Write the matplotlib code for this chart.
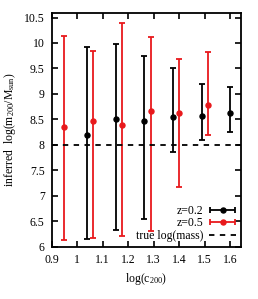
import matplotlib.pyplot as plt
from matplotlib.lines import Line2D
from matplotlib.container import ErrorbarContainer
from matplotlib.legend_handler import HandlerErrorbar

plt.rcParams['font.family'] = 'Liberation Serif'
plt.rcParams['mathtext.fontset'] = 'custom'
plt.rcParams['mathtext.rm'] = 'Liberation Serif'
plt.rcParams['mathtext.it'] = 'Liberation Serif:italic'
plt.rcParams['font.size'] = 8.5

# z=0.2 (black)
c_02 = [1.037, 1.151, 1.262, 1.375, 1.489, 1.600]
m_02 = [8.19, 8.50, 8.47, 8.55, 8.57, 8.63]
hi_02 = [9.92, 9.98, 9.74, 9.51, 9.19, 9.13]
lo_02 = [6.15, 6.32, 6.54, 7.85, 8.09, 8.25]

# z=0.5 (red)
c_05 = [0.948, 1.062, 1.175, 1.289, 1.401, 1.512]
m_05 = [8.35, 8.47, 8.39, 8.66, 8.62, 8.78]
hi_05 = [10.13, 9.84, 10.40, 10.12, 9.69, 9.83]
lo_05 = [6.14, 6.18, 6.21, 6.31, 7.18, 8.19]

true_mass = 8.0
red = '#e8191c'

fig = plt.figure(figsize=(2.58, 2.99), dpi=100)
ax = fig.add_axes([0.2, 0.175, 0.734, 0.78])

handles = []
for c, m, hi, lo, col in [(c_02, m_02, hi_02, lo_02, 'black'),
                          (c_05, m_05, hi_05, lo_05, red)]:
    err = [[mi - l for mi, l in zip(m, lo)], [h - mi for mi, h in zip(m, hi)]]
    ax.errorbar(c, m, yerr=err, fmt='o', color=col, ms=3.6, lw=1.3,
                capsize=2.3, capthick=1.3)
    # legend entry drawn gnuplot-style: horizontal bar with caps
    h = ax.errorbar([float('nan')], [float('nan')], xerr=[1], fmt='o', color=col,
                    ms=3.6, lw=1.3, capsize=2.3, capthick=1.3)
    handles.append(h)

ax.axhline(true_mass, color='black', lw=1.3, ls=(0, (3, 3)))
handles.append(Line2D([], [], color='black', lw=1.3, ls=(0, (3, 3))))

ax.set_xlim(0.9, 1.643)
ax.set_ylim(6, 10.58)
ax.set_xticks([0.9, 1.0, 1.1, 1.2, 1.3, 1.4, 1.5, 1.6])
ax.set_xticklabels(['0.9', '1', '1.1', '1.2', '1.3', '1.4', '1.5', '1.6'])
ax.set_yticks([6, 6.5, 7, 7.5, 8, 8.5, 9, 9.5, 10, 10.5])
ax.set_yticklabels(['6', '6.5', '7', '7.5', '8', '8.5', '9', '9.5', '10', '10.5'])
ax.tick_params(direction='in', top=True, right=True, length=4, width=1.2, pad=5)
for s in ax.spines.values():
    s.set_linewidth(1.3)

ax.set_xlabel(r'log(c$_{200}$)')
ax.set_ylabel(r'inferred  log(m$_{200}$/M$_{\rm sun}$)')

ax.legend(handles, ['z=0.2', 'z=0.5', 'true log(mass)'], loc='lower right',
          frameon=False, markerfirst=False, handlelength=2.3, handletextpad=0.5,
          labelspacing=0.05, borderaxespad=0.1, borderpad=0.3,
          handler_map={ErrorbarContainer: HandlerErrorbar(xerr_size=1.05)})

fig.savefig('out.png', dpi=100)
